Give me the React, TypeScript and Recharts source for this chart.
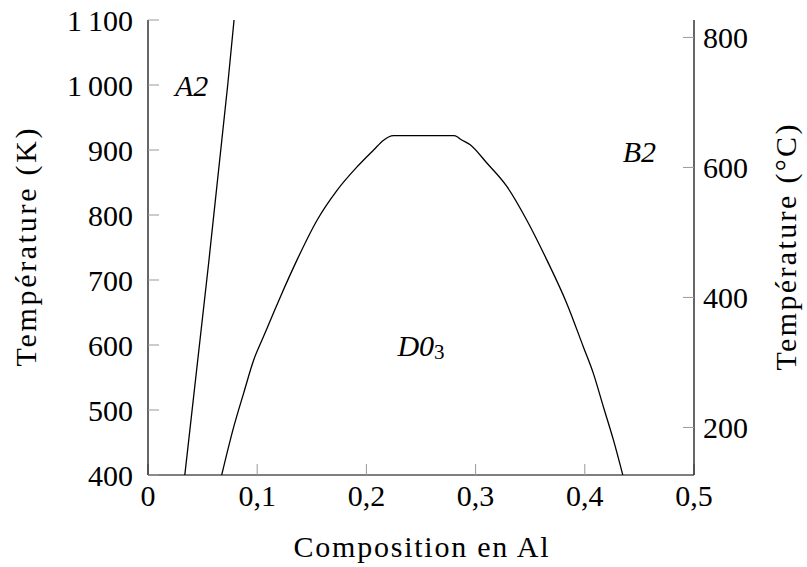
import React from 'react';
import { ComposedChart, Line, XAxis, YAxis, ReferenceDot } from 'recharts';

// ---- data ----
const compositionTicks = [0, 0.1, 0.2, 0.3, 0.4, 0.5];
const kelvinTicks = [400, 500, 600, 700, 800, 900, 1000, 1100];
const celsiusTicks = [200, 400, 600, 800];
const kelvinDomain = [400, 1100];
const kelvinOffset = 273.15;

// A2 / B2 boundary (composition, temperature in K)
const a2BoundaryX = [0.0337, 0.0556, 0.073, 0.0788];
const a2BoundaryT = [400, 727, 1000, 1100];

// D0_3 dome boundary
const d03X = [0.0675, 0.0785, 0.0876, 0.0968, 0.1045, 0.1121, 0.1212, 0.1365, 0.1548, 0.1731, 0.1914, 0.2066, 0.2157, 0.2203, 0.2249, 0.2798, 0.2835, 0.2859, 0.2951, 0.3103, 0.3286, 0.3469, 0.3652, 0.3835, 0.3987, 0.4079, 0.417, 0.4262, 0.4348];
const d03T = [400, 474, 526, 577, 608, 638, 674, 731, 792, 838, 874, 900, 915, 920, 922, 922, 920, 917, 908, 880, 844, 792, 731, 664, 597, 556, 505, 454, 400];

// phase labels
const phaseNames = ['A2', 'B2', 'D0'];
const phaseSubs = ['', '', '3'];
const phaseX = [0.04, 0.45, 0.25];
const phaseT = [1000, 898, 600];

const a2Data = a2BoundaryX.map((x, i) => ({ x, t: a2BoundaryT[i] }));
const d03Data = d03X.map((x, i) => ({ x, t: d03T[i] }));

const FONT = 'Liberation Serif, Tinos, Times New Roman, DejaVu Serif, Noto Serif, serif';
const FS = 30;

const fmtComp = (v: number) => (v === 0 ? '0' : v.toFixed(1).replace('.', ','));
const fmtK = (v: number) => (v >= 1000 ? `${Math.floor(v / 1000)}\u2009${String(v % 1000).padStart(3, '0')}` : String(v));

const tickStyle = { fontSize: FS, fill: '#000', style: { fontFamily: FONT } };

const renderXLabel = (props: any) => {
  const vb = props.viewBox || {};
  return (
    <text x={vb.x + vb.width / 2} y={vb.y + 82} textAnchor="middle" style={{ fontFamily: FONT }} fontSize={FS} fill="#000" textLength={255} lengthAdjust="spacing">
      Composition en Al
    </text>
  );
};

const renderLeftLabel = (props: any) => {
  const vb = props.viewBox || {};
  const cx = vb.x + 36;
  const cy = vb.y + vb.height / 2;
  return (
    <text x={cx} y={cy} transform={`rotate(-90, ${cx}, ${cy})`} textAnchor="middle" style={{ fontFamily: FONT }} fontSize={FS} fill="#000" textLength={238} lengthAdjust="spacing">
      Température (K)
    </text>
  );
};

const renderRightLabel = (props: any) => {
  const vb = props.viewBox || {};
  const cx = vb.x + 102;
  const cy = vb.y + vb.height / 2;
  return (
    <text x={cx} y={cy} transform={`rotate(-90, ${cx}, ${cy})`} textAnchor="middle" style={{ fontFamily: FONT }} fontSize={FS} fill="#000" textLength={246} lengthAdjust="spacing">
      Température (°C)
    </text>
  );
};

const makePhaseShape = (name: string, sub: string) => (p: any) => (
  <text x={p.cx} y={p.cy} textAnchor="middle" dominantBaseline="central" style={{ fontFamily: FONT }} fontStyle="italic" fontSize={FS} fill="#000">
    {name}
    {sub ? (
      <tspan fontStyle="normal" fontSize={21} dy={7}>
        {sub}
      </tspan>
    ) : null}
  </text>
);

export default function App() {
  return (
    <div style={{ position: 'absolute', left: 0, top: 0, width: 807, height: 567, background: '#fff', fontFamily: FONT }}>
      <ComposedChart width={807} height={567} margin={{ top: 20, right: 0, bottom: 0, left: 0 }} style={{ fontFamily: FONT }}>
        <XAxis
          xAxisId="bottom"
          dataKey="x"
          type="number"
          domain={[0, 0.5]}
          ticks={compositionTicks}
          tickFormatter={fmtComp}
          height={92}
          tick={tickStyle}
          tickSize={-11}
          tickMargin={21}
          axisLine={{ stroke: '#000', strokeWidth: 1.2 }}
          tickLine={{ stroke: '#999', strokeWidth: 1 }}
          allowDataOverflow
          label={renderXLabel}
        />
        <XAxis
          xAxisId="top"
          orientation="top"
          dataKey="x"
          type="number"
          domain={[0, 0.5]}
          ticks={compositionTicks}
          height={0}
          tick={false}
          tickSize={-11}
          axisLine={{ stroke: '#000', strokeWidth: 1.2 }}
          tickLine={{ stroke: '#999', strokeWidth: 1 }}
          allowDataOverflow
        />
        <YAxis
          yAxisId="left"
          type="number"
          domain={kelvinDomain}
          ticks={kelvinTicks}
          tickFormatter={fmtK}
          width={148}
          tick={tickStyle}
          tickSize={-11}
          tickMargin={26}
          axisLine={{ stroke: '#000', strokeWidth: 1.2 }}
          tickLine={{ stroke: '#999', strokeWidth: 1 }}
          allowDataOverflow
          label={renderLeftLabel}
        />
        <YAxis
          yAxisId="right"
          orientation="right"
          type="number"
          domain={[kelvinDomain[0] - kelvinOffset, kelvinDomain[1] - kelvinOffset]}
          ticks={celsiusTicks}
          width={113}
          tick={tickStyle}
          tickSize={-11}
          tickMargin={20}
          axisLine={{ stroke: '#000', strokeWidth: 1.2 }}
          tickLine={{ stroke: '#999', strokeWidth: 1 }}
          allowDataOverflow
          label={renderRightLabel}
        />
        <Line xAxisId="bottom" yAxisId="left" data={a2Data} dataKey="t" type="linear" stroke="#000" strokeWidth={1.3} dot={false} activeDot={false} isAnimationActive={false} />
        <Line xAxisId="bottom" yAxisId="left" data={d03Data} dataKey="t" type="monotoneX" stroke="#000" strokeWidth={1.3} dot={false} activeDot={false} isAnimationActive={false} />
        {phaseNames.map((name, i) => (
          <ReferenceDot
            key={name}
            xAxisId="bottom"
            yAxisId="left"
            x={phaseX[i]}
            y={phaseT[i]}
            r={0}
            shape={makePhaseShape(name, phaseSubs[i])}
          />
        ))}
      </ComposedChart>
    </div>
  );
}
